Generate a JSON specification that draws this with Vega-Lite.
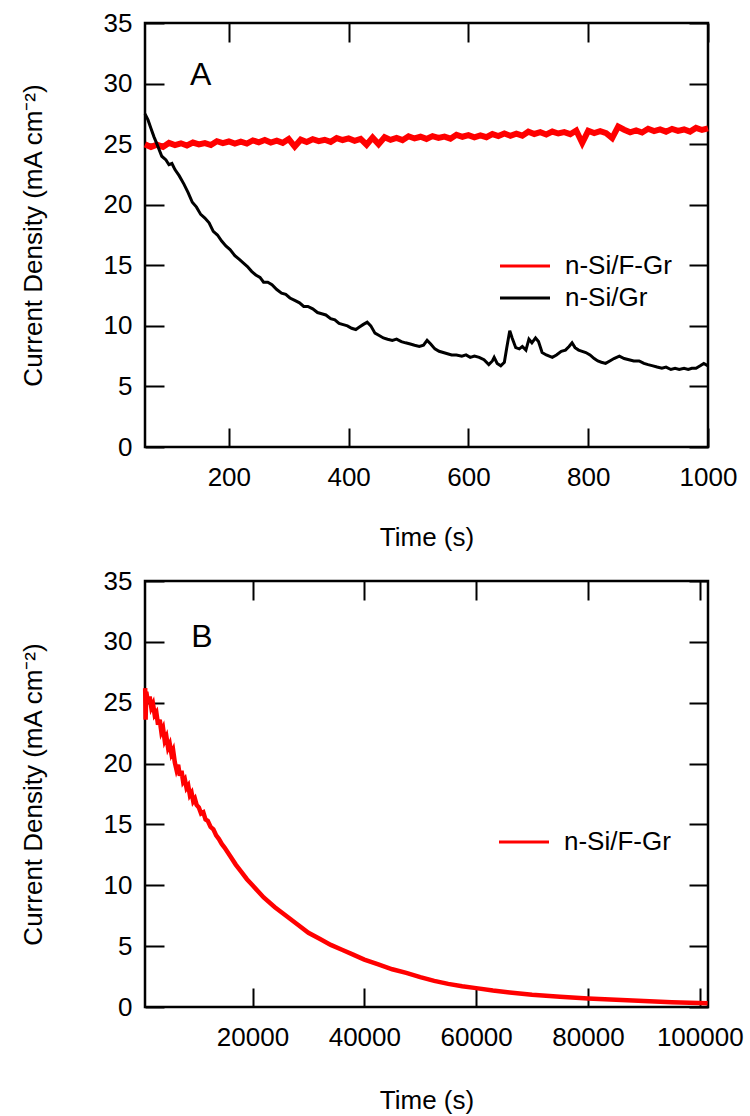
{
  "$schema": "https://vega.github.io/schema/vega-lite/v6.json",
  "padding": {"left": 18, "top": 8, "right": 0, "bottom": 0},
  "background": "white",
  "datasets": {
    "a_fgr": [
      {"t":60,"j":24.98},{"t":70,"j":24.77},{"t":80,"j":24.95},{"t":90,"j":24.77},{"t":100,"j":25.10},{"t":110,"j":24.92},{"t":120,"j":25.07},{"t":130,"j":24.89},{"t":140,"j":25.13},{"t":150,"j":24.98},
      {"t":160,"j":25.09},{"t":170,"j":24.93},{"t":180,"j":25.24},{"t":190,"j":25.09},{"t":200,"j":25.22},{"t":210,"j":25.04},{"t":220,"j":25.20},{"t":230,"j":25.05},{"t":240,"j":25.31},{"t":250,"j":25.15},
      {"t":260,"j":25.34},{"t":270,"j":25.13},{"t":280,"j":25.29},{"t":290,"j":25.11},{"t":300,"j":25.42},{"t":310,"j":24.80},{"t":320,"j":25.37},{"t":330,"j":25.18},{"t":340,"j":25.41},{"t":350,"j":25.25},
      {"t":360,"j":25.36},{"t":370,"j":25.19},{"t":380,"j":25.50},{"t":390,"j":25.34},{"t":400,"j":25.47},{"t":410,"j":25.28},{"t":420,"j":25.44},{"t":430,"j":24.95},{"t":440,"j":25.54},{"t":450,"j":25.00},
      {"t":460,"j":25.57},{"t":470,"j":25.35},{"t":480,"j":25.52},{"t":490,"j":25.33},{"t":500,"j":25.65},{"t":510,"j":25.47},{"t":520,"j":25.61},{"t":530,"j":25.43},{"t":540,"j":25.66},{"t":550,"j":25.51},
      {"t":560,"j":25.62},{"t":570,"j":25.45},{"t":580,"j":25.77},{"t":590,"j":25.61},{"t":600,"j":25.74},{"t":610,"j":25.56},{"t":620,"j":25.72},{"t":630,"j":25.57},{"t":640,"j":25.83},{"t":650,"j":25.67},
      {"t":660,"j":25.88},{"t":670,"j":25.69},{"t":680,"j":25.87},{"t":690,"j":25.70},{"t":700,"j":26.03},{"t":710,"j":25.84},{"t":720,"j":25.99},{"t":730,"j":25.80},{"t":740,"j":26.04},{"t":750,"j":25.88},
      {"t":760,"j":25.99},{"t":770,"j":25.82},{"t":780,"j":26.13},{"t":790,"j":25.10},{"t":800,"j":26.10},{"t":810,"j":25.91},{"t":820,"j":26.07},{"t":830,"j":25.91},{"t":840,"j":25.50},{"t":850,"j":26.45},
      {"t":860,"j":26.19},{"t":870,"j":25.98},{"t":880,"j":26.14},{"t":890,"j":25.96},{"t":900,"j":26.27},{"t":910,"j":26.08},{"t":920,"j":26.22},{"t":930,"j":26.03},{"t":940,"j":26.26},{"t":950,"j":26.10},
      {"t":960,"j":26.21},{"t":970,"j":26.03},{"t":980,"j":26.34},{"t":990,"j":26.17},{"t":1000,"j":26.30}
    ],
    "a_gr": [
      {"t":60,"j":27.5},{"t":65,"j":27.0},{"t":70,"j":26.3},{"t":75,"j":25.6},{"t":80,"j":25.0},{"t":88,"j":24.0},{"t":95,"j":23.7},{"t":100,"j":23.3},{"t":105,"j":23.4},{"t":110,"j":22.9},
      {"t":117,"j":22.4},{"t":125,"j":21.7},{"t":132,"j":21.0},{"t":139,"j":20.2},{"t":146,"j":19.8},{"t":153,"j":19.2},{"t":160,"j":18.9},{"t":167,"j":18.5},{"t":174,"j":17.8},{"t":181,"j":17.5},
      {"t":188,"j":17.0},{"t":195,"j":16.6},{"t":202,"j":16.3},{"t":210,"j":15.8},{"t":217,"j":15.5},{"t":224,"j":15.2},{"t":231,"j":14.9},{"t":238,"j":14.5},{"t":245,"j":14.2},{"t":252,"j":14.0},
      {"t":258,"j":13.6},{"t":265,"j":13.6},{"t":272,"j":13.4},{"t":280,"j":13.0},{"t":288,"j":12.7},{"t":295,"j":12.6},{"t":302,"j":12.3},{"t":310,"j":12.1},{"t":318,"j":11.9},{"t":325,"j":11.6},
      {"t":332,"j":11.6},{"t":340,"j":11.4},{"t":348,"j":11.1},{"t":355,"j":11.0},{"t":362,"j":10.9},{"t":370,"j":10.6},{"t":377,"j":10.5},{"t":384,"j":10.2},{"t":391,"j":10.1},{"t":398,"j":10.0},
      {"t":405,"j":9.8},{"t":412,"j":9.7},{"t":418,"j":9.9},{"t":424,"j":10.1},{"t":431,"j":10.3},{"t":437,"j":10.0},{"t":444,"j":9.4},{"t":451,"j":9.2},{"t":458,"j":9.0},{"t":465,"j":8.9},
      {"t":473,"j":8.8},{"t":480,"j":8.9},{"t":488,"j":8.7},{"t":495,"j":8.6},{"t":503,"j":8.5},{"t":510,"j":8.4},{"t":518,"j":8.3},{"t":525,"j":8.4},{"t":531,"j":8.8},{"t":537,"j":8.5},
      {"t":544,"j":8.1},{"t":551,"j":7.9},{"t":558,"j":7.8},{"t":565,"j":7.7},{"t":572,"j":7.6},{"t":580,"j":7.6},{"t":589,"j":7.5},{"t":596,"j":7.6},{"t":603,"j":7.4},{"t":610,"j":7.5},
      {"t":618,"j":7.4},{"t":626,"j":7.2},{"t":634,"j":6.8},{"t":640,"j":7.1},{"t":643,"j":7.4},{"t":648,"j":6.9},{"t":654,"j":6.7},{"t":660,"j":7.0},{"t":664,"j":8.2},{"t":669,"j":9.6},
      {"t":673,"j":9.0},{"t":679,"j":8.2},{"t":685,"j":8.1},{"t":690,"j":8.3},{"t":696,"j":8.0},{"t":701,"j":8.9},{"t":706,"j":8.6},{"t":712,"j":9.0},{"t":717,"j":8.7},{"t":723,"j":7.8},
      {"t":730,"j":7.6},{"t":740,"j":7.4},{"t":747,"j":7.6},{"t":755,"j":7.9},{"t":762,"j":8.0},{"t":768,"j":8.3},{"t":773,"j":8.6},{"t":778,"j":8.2},{"t":784,"j":8.0},{"t":790,"j":7.9},
      {"t":796,"j":7.8},{"t":803,"j":7.6},{"t":810,"j":7.3},{"t":816,"j":7.1},{"t":822,"j":7.0},{"t":829,"j":6.9},{"t":836,"j":7.1},{"t":843,"j":7.3},{"t":852,"j":7.5},{"t":860,"j":7.3},
      {"t":868,"j":7.2},{"t":876,"j":7.1},{"t":885,"j":7.1},{"t":893,"j":6.9},{"t":900,"j":6.8},{"t":908,"j":6.7},{"t":915,"j":6.6},{"t":923,"j":6.5},{"t":930,"j":6.6},{"t":938,"j":6.4},
      {"t":945,"j":6.5},{"t":952,"j":6.4},{"t":960,"j":6.5},{"t":967,"j":6.4},{"t":973,"j":6.5},{"t":980,"j":6.5},{"t":987,"j":6.7},{"t":993,"j":6.9},{"t":1000,"j":6.7}
    ],
    "b_fgr": [
      {"t":800,"j":26.2},{"t":880,"j":23.6},{"t":1000,"j":25.9},{"t":1300,"j":25.0},{"t":1600,"j":25.5},{"t":1900,"j":24.6},{"t":2200,"j":24.9},{"t":2500,"j":24.0},{"t":2800,"j":24.2},{"t":3100,"j":23.2},
      {"t":3400,"j":23.6},{"t":3700,"j":22.6},{"t":4000,"j":22.9},{"t":4300,"j":21.9},{"t":4600,"j":22.2},{"t":4900,"j":21.3},{"t":5200,"j":21.6},{"t":5500,"j":20.8},{"t":5800,"j":21.1},{"t":6100,"j":20.1},
      {"t":6400,"j":19.5},{"t":6700,"j":19.9},{"t":7000,"j":19.0},{"t":7300,"j":19.4},{"t":7600,"j":18.5},{"t":7900,"j":18.7},{"t":8200,"j":18.0},{"t":8500,"j":18.2},{"t":8800,"j":17.4},{"t":9100,"j":17.6},
      {"t":9400,"j":16.9},{"t":9700,"j":17.1},{"t":10000,"j":16.6},{"t":10400,"j":16.4},{"t":10800,"j":15.9},{"t":11200,"j":16.0},{"t":11600,"j":15.4},{"t":12000,"j":15.3},{"t":12500,"j":14.8},{"t":13000,"j":14.6},
      {"t":13500,"j":14.1},{"t":14000,"j":13.8},{"t":14500,"j":13.4},{"t":15000,"j":13.1},{"t":16000,"j":12.4},{"t":17000,"j":11.7},{"t":18000,"j":11.1},{"t":19000,"j":10.5},{"t":20000,"j":10.0},{"t":22000,"j":9.0},
      {"t":24000,"j":8.2},{"t":26000,"j":7.5},{"t":28000,"j":6.8},{"t":30000,"j":6.1},{"t":32000,"j":5.6},{"t":34000,"j":5.1},{"t":36000,"j":4.7},{"t":38000,"j":4.3},{"t":40000,"j":3.9},{"t":42500,"j":3.5},
      {"t":45000,"j":3.1},{"t":47500,"j":2.8},{"t":50000,"j":2.45},{"t":52500,"j":2.15},{"t":55000,"j":1.9},{"t":57500,"j":1.7},{"t":60000,"j":1.55},{"t":63000,"j":1.35},{"t":66000,"j":1.2},{"t":70000,"j":1.0},
      {"t":75000,"j":0.85},{"t":80000,"j":0.7},{"t":85000,"j":0.6},{"t":90000,"j":0.5},{"t":95000,"j":0.4},{"t":101400,"j":0.3}
    ]
  },
  "vconcat": [
    {
      "width": 563,
      "height": 424,
      "resolve": {"axis": {"x": "independent", "y": "independent"}},
      "layer": [
        {
          "data": {"name": "a_fgr"},
          "mark": {"type": "line", "strokeWidth": 6, "interpolate": "linear"},
          "encoding": {
            "x": {"field": "t", "type": "quantitative", "scale": {"domain": [60, 1000], "nice": false, "zero": false},
                  "axis": {"orient": "bottom", "title": "Time (s)", "values": [200, 400, 600, 800, 1000], "format": "d", "labelPadding": 36, "titlePadding": 34}},
            "y": {"field": "j", "type": "quantitative", "scale": {"domain": [0, 35], "nice": false, "zero": false},
                  "axis": {"orient": "left", "title": "Current Density (mA cm⁻²)", "values": [0, 5, 10, 15, 20, 25, 30, 35], "labelPadding": 32, "titlePadding": 57}},
            "color": {"datum": "n-Si/F-Gr", "type": "nominal",
                      "scale": {"domain": ["n-Si/F-Gr", "n-Si/Gr"], "range": ["#ff0000", "#000000"]},
                      "legend": {"orient": "none", "legendX": 367, "legendY": 230, "title": null}}
          }
        },
        {
          "data": {"name": "a_gr"},
          "mark": {"type": "line", "strokeWidth": 3},
          "encoding": {
            "x": {"field": "t", "type": "quantitative", "axis": null},
            "y": {"field": "j", "type": "quantitative", "axis": null},
            "color": {"datum": "n-Si/Gr", "type": "nominal"}
          }
        },
        {
          "data": {"values": [{"label": "A"}]},
          "mark": {"type": "text", "font": "Liberation Sans", "fontSize": 32, "color": "black", "align": "center", "baseline": "middle"},
          "encoding": {
            "text": {"field": "label"},
            "x": {"datum": 153, "type": "quantitative", "axis": {"orient": "top", "labels": false, "title": null, "values": [200, 400, 600, 800, 1000]}},
            "y": {"datum": 30.7, "type": "quantitative", "axis": {"orient": "right", "labels": false, "title": null, "values": [0, 5, 10, 15, 20, 25, 30, 35]}}
          }
        }
      ]
    },
    {
      "width": 563,
      "height": 426,
      "resolve": {"axis": {"x": "independent", "y": "independent"}},
      "layer": [
        {
          "data": {"name": "b_fgr"},
          "mark": {"type": "line", "strokeWidth": 4.5},
          "encoding": {
            "x": {"field": "t", "type": "quantitative", "scale": {"domain": [770, 101470], "nice": false, "zero": false},
                  "axis": {"orient": "bottom", "title": "Time (s)", "values": [20000, 40000, 60000, 80000, 100000], "format": "d", "labelPadding": 36, "titlePadding": 37}},
            "y": {"field": "j", "type": "quantitative", "scale": {"domain": [0, 35], "nice": false, "zero": false},
                  "axis": {"orient": "left", "title": "Current Density (mA cm⁻²)", "values": [0, 5, 10, 15, 20, 25, 30, 35], "labelPadding": 32, "titlePadding": 57}},
            "color": {"datum": "n-Si/F-Gr", "type": "nominal",
                      "scale": {"domain": ["n-Si/F-Gr"], "range": ["#ff0000"]},
                      "legend": {"orient": "none", "legendX": 366, "legendY": 248, "title": null}}
          }
        },
        {
          "data": {"values": [{"label": "B"}]},
          "mark": {"type": "text", "font": "Liberation Sans", "fontSize": 32, "color": "black", "align": "center", "baseline": "middle"},
          "encoding": {
            "text": {"field": "label"},
            "x": {"datum": 10970, "type": "quantitative", "axis": {"orient": "top", "labels": false, "title": null, "values": [20000, 40000, 60000, 80000, 100000]}},
            "y": {"datum": 30.4, "type": "quantitative", "axis": {"orient": "right", "labels": false, "title": null, "values": [0, 5, 10, 15, 20, 25, 30, 35]}}
          }
        }
      ]
    }
  ],
  "spacing": 14,
  "resolve": {"scale": {"color": "independent"}, "legend": {"color": "independent"}},
  "config": {
    "view": {"stroke": "black", "strokeWidth": 2.5},
    "axis": {
      "domain": false, "grid": false,
      "tickColor": "black", "tickWidth": 2, "tickSize": -19,
      "labelFont": "Liberation Sans", "labelFontSize": 26, "labelColor": "black", "labelFlush": false, "labelOverlap": false,
      "titleFont": "Liberation Sans", "titleFontSize": 26, "titleFontWeight": "normal", "titleColor": "black"
    },
    "legend": {
      "padding": 0,
      "symbolType": "M-2.5,0H2.5", "symbolSize": 400, "symbolStrokeWidth": 3,
      "labelFont": "Liberation Sans", "labelFontSize": 26, "labelColor": "black", "labelOffset": 27,
      "rowPadding": 6
    }
  }
}
